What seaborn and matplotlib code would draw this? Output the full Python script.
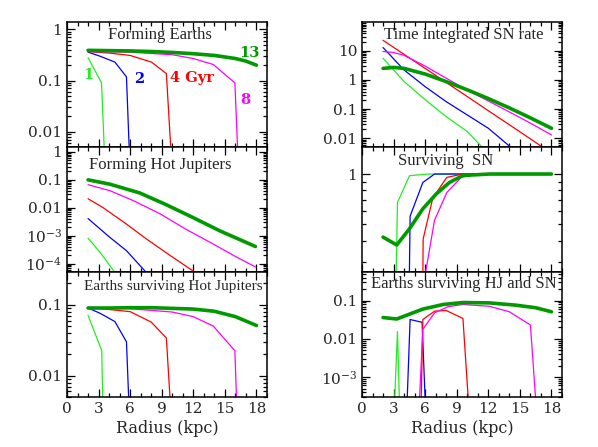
import numpy as np
import pandas as pd
import matplotlib
matplotlib.use("Agg")
import matplotlib.pyplot as plt
import matplotlib.ticker as mticker
import seaborn as sns

# curves: ages 1, 2, 4, 8, 13 Gyr
ages = ["1", "2", "4", "8", "13"]
colors = ["#22ee22", "#0000ff", "#ff0000", "#ff00ff", "#009a00"]
widths = [0.9, 0.9, 0.9, 0.9, 2.6]

# Forming Earths
fe_x = [[2.0, 3.28, 3.55],
        [2.0, 3.13, 4.55, 5.65, 5.92],
        [2.0, 4.0, 6.0, 8.02, 9.44, 9.88],
        [2.0, 6.0, 10.0, 12.0, 13.9, 15.95, 16.22],
        [2, 4, 6, 8, 10, 12, 14, 16, 17, 18]]
fe_y = [[0.28, 0.09, 0.004],
        [0.36, 0.30, 0.23, 0.118, 0.004],
        [0.37, 0.345, 0.31, 0.23, 0.137, 0.004],
        [0.37, 0.36, 0.32, 0.27, 0.206, 0.09, 0.004],
        [0.39, 0.385, 0.38, 0.37, 0.355, 0.335, 0.31, 0.27, 0.24, 0.20]]

# Forming Hot Jupiters
hj_x = [[2.0, 3.12, 4.6],
        [2.0, 4.07, 5.65, 7.6],
        [2.0, 3.44, 5.65, 7.55, 9.76, 12.3],
        [2.0, 4.07, 6.3, 8.8, 11.3, 13.86, 16.0, 17.9],
        [2.0, 4.07, 6.9, 9.4, 12.0, 14.5, 17.9]]
hj_y = [[8.1e-4, 2.6e-4, 4.5e-5],
        [0.0041, 8.7e-4, 2.9e-4, 4.5e-5],
        [0.021, 0.01, 0.0026, 7.6e-4, 2e-4, 4.5e-5],
        [0.067, 0.041, 0.018, 0.0062, 0.0017, 5.1e-4, 1.8e-4, 7.6e-5],
        [0.1, 0.070, 0.034, 0.013, 0.0044, 0.0015, 4.1e-4]]

# Earths surviving Hot Jupiters
es_x = [[2.0, 3.3, 3.4],
        [2.0, 3.13, 4.55, 5.65, 5.88],
        [2.0, 6.0, 8.0, 9.44, 9.82],
        [2.0, 6.0, 10.0, 12.0, 13.9, 15.95, 16.12],
        [2, 4, 6, 8, 10, 12, 14, 16, 18]]
es_y = [[0.071, 0.0225, 0.004],
        [0.09, 0.076, 0.058, 0.030, 0.004],
        [0.092, 0.08, 0.057, 0.034, 0.004],
        [0.092, 0.088, 0.079, 0.068, 0.05, 0.0225, 0.004],
        [0.09, 0.09, 0.091, 0.091, 0.089, 0.087, 0.081, 0.068, 0.051]]

# Time integrated SN rate
sn_x = [[2, 4, 6, 8, 10, 11.4, 12],
        [2, 4, 6, 8, 10, 12, 14, 15],
        [2, 4, 6, 8, 10, 12, 14, 16, 17.1, 18],
        [2, 3, 4, 6, 8, 10, 12, 14, 16, 18],
        [2, 3, 4, 6, 8, 10, 12, 14, 16, 18]]
sn_y = [[5.6, 0.88, 0.21, 0.055, 0.017, 0.005, 0.003],
        [13, 2.2, 0.59, 0.18, 0.063, 0.022, 0.0054, 0.003],
        [23, 7.6, 2.5, 0.82, 0.27, 0.088, 0.029, 0.0095, 0.0051, 0.003],
        [9.5, 8.8, 7.0, 3.0, 1.15, 0.45, 0.19, 0.08, 0.033, 0.013],
        [2.5, 2.7, 2.5, 1.6, 0.88, 0.46, 0.23, 0.11, 0.05, 0.022]]

# Surviving SN
ss_x = [[3.24, 3.37, 4.51, 6.25, 18],
        [4.5, 4.57, 5.78, 6.89, 18],
        [5.78, 5.81, 6.73, 8.06, 9.59, 18],
        [6.0, 6.89, 8.06, 9.43, 10.86, 18],
        [2.0, 3.3, 4.5, 5.78, 7.05, 8.3, 9.59, 12.1, 18]]
ss_y = [[0.25, 0.676, 0.977, 1.0, 1.0],
        [0.25, 0.56, 0.89, 1.0, 1.0],
        [0.25, 0.41, 0.72, 0.955, 1.0, 1.0],
        [0.25, 0.53, 0.776, 0.955, 1.0, 1.0],
        [0.42, 0.377, 0.47, 0.62, 0.76, 0.89, 0.98, 1.0, 1.0]]

# Earths surviving HJ and SN
hs_x = [[3.1, 3.37, 3.55],
        [4.29, 4.57, 5.71, 6.0],
        [5.62, 5.78, 6.9, 8.0, 9.59, 10.1],
        [5.46, 5.78, 6.9, 8.16, 9.59, 12.1, 14.0, 16.0, 16.5],
        [2.0, 3.3, 5.78, 7.7, 9.59, 12.1, 14.6, 16.5, 18.0]]
hs_y = [[2.5e-4, 0.0155, 2.5e-4],
        [2.5e-4, 0.032, 0.027, 2.5e-4],
        [2.5e-4, 0.032, 0.053, 0.055, 0.034, 2.5e-4],
        [2.5e-4, 0.0178, 0.048, 0.069, 0.079, 0.071, 0.051, 0.023, 2.5e-4],
        [0.036, 0.033, 0.06, 0.079, 0.089, 0.087, 0.076, 0.065, 0.051]]

# title, x, y, ylim, column, row, title position, title size
panels = [
    ("Forming Earths", fe_x, fe_y, (0.005, 1.4), 0, 0, (0.465, 0.895), 12),
    ("Forming Hot Jupiters", hj_x, hj_y, (5e-5, 1.5), 0, 1, (0.465, 0.855), 12),
    ("Earths surviving Hot Jupiters", es_x, es_y, (0.005, 0.29), 0, 2, (0.53, 0.885), 11),
    ("Time integrated SN rate", sn_x, sn_y, (0.005, 98), 1, 0, (0.51, 0.895), 12),
    ("Surviving  SN", ss_x, ss_y, (0.26, 1.45), 1, 1, (0.42, 0.89), 12),
    ("Earths surviving HJ and SN", hs_x, hs_y, (3e-4, 0.56), 1, 2, (0.51, 0.905), 12),
]

sns.set_style("ticks")
plt.rcParams["font.family"] = ["DejaVu Serif"]
plt.rcParams["mathtext.fontset"] = "dejavuserif"


def ylab(v, pos):
    e = int(round(np.log10(v)))
    if e >= -2:
        return f"{v:g}"
    return r"$10^{%d}$" % e


fig = plt.figure(figsize=(5.98, 4.47), dpi=100)
lefts = [67 / 598, 362 / 598]

for title, xs, ys, ylim, col, row, tpos, tsize in panels:
    ax = fig.add_axes([lefts[col], 1 - (22 + 125 * (row + 1)) / 447, 200 / 598, 125 / 447])
    for i in range(5):
        df = pd.DataFrame({"r": xs[i], "v": ys[i]})
        sns.lineplot(data=df, x="r", y="v", ax=ax, color=colors[i],
                     lw=widths[i], sort=False, estimator=None)
    ax.set_yscale("log")
    ax.set_xlim(0, 19)
    ax.set_ylim(*ylim)
    ax.xaxis.set_major_locator(mticker.MultipleLocator(3))
    ax.xaxis.set_minor_locator(mticker.MultipleLocator(1))
    ax.yaxis.set_major_locator(mticker.LogLocator(base=10, numticks=20))
    ax.yaxis.set_minor_locator(mticker.LogLocator(base=10, subs=np.arange(2, 10), numticks=100))
    ax.yaxis.set_major_formatter(mticker.FuncFormatter(ylab))
    ax.yaxis.set_minor_formatter(mticker.NullFormatter())
    ax.tick_params(which="both", direction="in", top=True, right=True,
                   labelsize=11, width=0.9, color="black")
    ax.tick_params(which="major", length=6)
    ax.tick_params(which="minor", length=3)
    for s in ax.spines.values():
        s.set_linewidth(1.1)
        s.set_color("black")
    ax.set_ylabel("")
    if row == 2:
        ax.set_xlabel("Radius (kpc)", fontsize=11.5, labelpad=3)
    else:
        ax.set_xlabel("")
        ax.tick_params(labelbottom=False)
    ax.text(tpos[0], tpos[1], title, transform=ax.transAxes, ha="center",
            va="center", fontsize=tsize, family=["Liberation Serif"])
    if row == 0 and col == 0:
        lab = dict(fontsize=10.5, fontweight="bold", ha="center", va="center")
        ax.text(2.0, 0.13, "1", color=colors[0], **lab)
        ax.text(6.9, 0.105, "2", color=colors[1], **lab)
        ax.text(11.9, 0.11, "4 Gyr", color=colors[2], **lab)
        ax.text(16.9, 0.042, "8", color=colors[3], **lab)
        ax.text(17.3, 0.35, "13", color=colors[4], **lab)

fig.savefig("out.png", dpi=100)
